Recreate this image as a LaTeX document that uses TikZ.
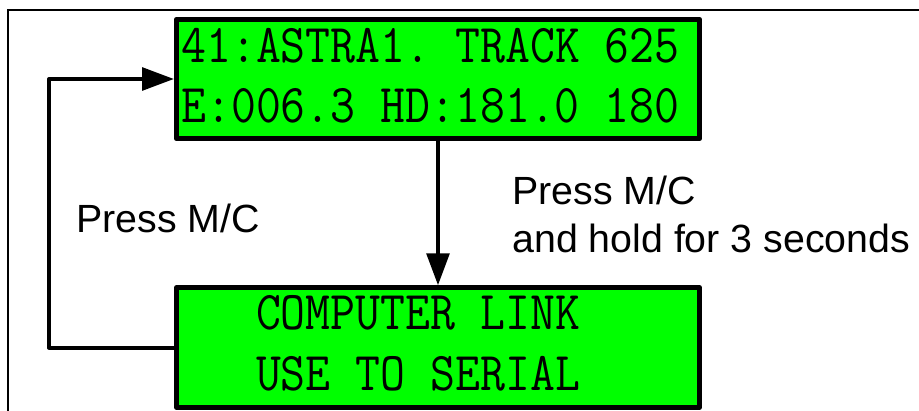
\documentclass[tikz,border=0pt]{standalone}
\usepackage{fontspec}
\setsansfont{Liberation Sans}
\usepackage{graphicx}
\usetikzlibrary{arrows.meta}
\definecolor{lcdGreen}{RGB}{0,255,0}
\newcommand\lcdline[1]{\scalebox{0.885}[1]{#1}}

\begin{document}
\begin{tikzpicture}[
  x=0.75pt, y=-0.75pt,
  lcd/.style={draw, fill=lcdGreen, line width=3.75pt, line join=round,
    minimum width=392.25pt, minimum height=89.6pt, inner sep=0pt},
  lcdtext/.style={anchor=base west, inner sep=0pt,
    font=\ttfamily\fontsize{41pt}{44pt}\selectfont},
  note/.style={anchor=base west, inner sep=0pt,
    font=\sffamily\fontsize{29.5pt}{36pt}\selectfont},
  link/.style={line width=3pt, line join=round,
    -{Triangle[length=24pt,width=17pt]}}
]
\useasboundingbox (0,0) rectangle (919,410);
\draw[line width=1.1pt] (8,430) |- (940,10);

% the two display screens
\node[lcd] (lcdA) at (438,79) {};
\node[lcd] (lcdB) at (438,347.5) {};
\node[lcdtext] (lineA1) at (181,63) {\lcdline{41:ASTRA1.~TRACK~625}};
\node[lcdtext] (lineA2) at (181,122) {\lcdline{E:006.3~HD:181.0~180}};
\node[lcdtext] (lineB1) at (181,329) {\lcdline{~~~COMPUTER~LINK}};
\node[lcdtext] (lineB2) at (181,390) {\lcdline{~~~USE~TO~SERIAL}};

% key presses
\node[note] (pressBack) at (76,232) {Press M/C};
\node[note] (pressHold) at (512,204) {Press M/C};
\node[note] (holdTime) at (512,252) {and hold for 3 seconds};

\coordinate (loopL) at (49,213);
\draw[link] (lcdA) -- (lcdB);
\draw[link] (lcdB.west) -| (loopL) |- (lcdA.west);
\end{tikzpicture}
\end{document}
